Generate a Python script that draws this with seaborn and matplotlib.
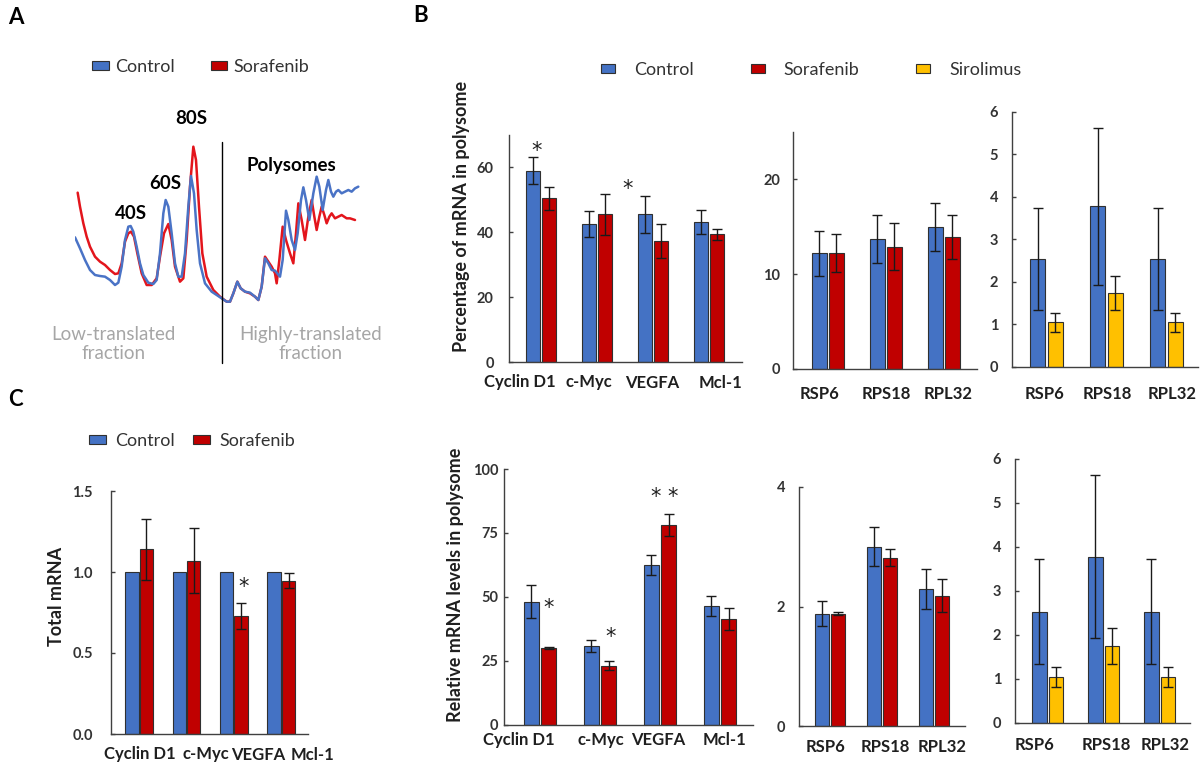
import numpy as np
import pandas as pd
import matplotlib
matplotlib.use("Agg")
import matplotlib.pyplot as plt
import seaborn as sns
from matplotlib.patches import Patch
from matplotlib.transforms import ScaledTranslation
from matplotlib.ticker import FormatStrFormatter

# ---------------- data ----------------
# Panel A: polysome profiles (gradient position, absorbance; arbitrary units)
pos_control = [225, 240, 255, 270, 285, 300, 315, 330, 345, 355,
               365, 375, 385, 392, 400, 410, 420, 430, 445, 460,
               470, 480, 490, 497, 505, 515, 525, 535, 545, 555,
               565, 573, 582, 590, 600, 615, 635, 650, 665, 680,
               690, 700, 712, 722, 735, 750, 765, 775, 785, 795,
               805, 815, 825, 840, 848, 858, 865, 875, 885, 893,
               903, 910, 918, 928, 940, 950, 958, 968, 978, 985,
               993, 1000, 1008, 1015, 1025, 1035, 1045, 1055, 1065, 1075]
abs_control = [288, 255, 220, 190, 175, 172, 170, 160, 145, 152,
               200, 280, 320, 322, 305, 260, 210, 175, 152, 148,
               160, 240, 360, 400, 380, 300, 210, 170, 170, 240,
               380, 472, 420, 310, 210, 150, 125, 115, 105, 95,
               95, 120, 155, 135, 125, 122, 110, 100, 140, 225,
               210, 190, 188, 170, 220, 368, 340, 280, 250, 300,
               400, 438, 400, 340, 420, 470, 440, 370, 430, 460,
               425, 410, 425, 430, 420, 425, 430, 425, 435, 440]
pos_sorafenib = [233, 240, 250, 260, 270, 285, 300, 315, 330, 345,
                 355, 365, 375, 385, 393, 402, 412, 425, 440, 455,
                 470, 480, 492, 505, 515, 525, 540, 550, 560, 570,
                 580, 588, 597, 607, 620, 640, 660, 680, 690, 700,
                 712, 722, 735, 750, 765, 775, 785, 795, 805, 815,
                 825, 830, 838, 848, 858, 870, 880, 888, 895, 905,
                 915, 925, 935, 943, 950, 958, 965, 973, 980, 988,
                 995, 1005, 1015, 1025, 1040, 1050, 1065]
abs_sorafenib = [422, 380, 330, 290, 260, 230, 215, 205, 190, 178,
                 180, 210, 275, 300, 305, 290, 240, 180, 145, 145,
                 165, 230, 300, 328, 280, 200, 155, 165, 280, 440,
                 560, 520, 380, 240, 170, 130, 110, 95, 95, 120,
                 155, 135, 125, 120, 110, 100, 140, 230, 215, 200,
                 180, 150, 220, 320, 280, 240, 210, 300, 390, 340,
                 280, 350, 400, 350, 310, 350, 380, 355, 330, 350,
                 360, 345, 350, 355, 345, 345, 340]
divider_pos = 667

genes = ["Cyclin D1", "c-Myc", "VEGFA", "Mcl-1"]
ribo_genes = ["RSP6", "RPS18", "RPL32"]

# Panel B top: percentage of mRNA in polysome
pct_control = [59.0, 42.5, 45.5, 43.2]
pct_control_err = [4.2, 4.1, 5.7, 3.8]
pct_sorafenib = [50.5, 45.5, 37.3, 39.4]
pct_sorafenib_err = [3.6, 6.2, 5.2, 1.7]
ribo_pct_control = [12.2, 13.7, 15.0]
ribo_pct_control_err = [2.4, 2.5, 2.5]
ribo_pct_sorafenib = [12.2, 12.9, 13.9]
ribo_pct_sorafenib_err = [2.0, 2.5, 2.3]
ribo_siro_control = [2.53, 3.78, 2.53]
ribo_siro_control_err = [1.2, 1.85, 1.2]
ribo_siro_sirolimus = [1.05, 1.75, 1.05]
ribo_siro_sirolimus_err = [0.23, 0.40, 0.23]

# Panel B bottom: relative mRNA levels in polysome
rel_control = [48.2, 30.9, 62.5, 46.6]
rel_control_err = [6.5, 2.3, 3.9, 3.9]
rel_sorafenib = [30.0, 23.2, 78.1, 41.4]
rel_sorafenib_err = [0.4, 1.9, 4.3, 4.4]
rel_ribo_control = [1.88, 3.00, 2.29]
rel_ribo_control_err = [0.21, 0.33, 0.33]
rel_ribo_sorafenib = [1.88, 2.82, 2.18]
rel_ribo_sorafenib_err = [0.03, 0.14, 0.28]

# Panel C: total mRNA
total_control = [1.0, 1.0, 1.0, 1.0]
total_sorafenib = [1.14, 1.07, 0.73, 0.946]
total_sorafenib_err = [0.19, 0.20, 0.08, 0.045]

# ---------------- style ----------------
sns.set_theme(style="white")
plt.rcParams['font.family'] = ['Lato', 'DejaVu Sans']

BLUE = "#4472C4"
RED = "#C00000"
YELLOW = "#FFC000"
LINE_BLUE = "#4A73C6"
LINE_RED = "#E3151C"
TXT = "#1f1f1f"

W, H = 1201, 762
fig = plt.figure(figsize=(W / 100, H / 100), dpi=100)


def rect(l, t, r, b):
    return [l / W, 1 - b / H, (r - l) / W, (b - t) / H]


def fx(px):
    return px / W


def fy(py):
    return 1 - py / H


def bar_panel(box, cats, series, names, colors, ylim, yticks, xlim, width, gap,
              ypad, xpad, label_dx, fmt="%d"):
    ax = fig.add_axes(rect(*box))
    frames = [pd.DataFrame({"gene": cats, "group": n, "value": v})
              for n, (v, e) in zip(names, series)]
    df = pd.concat(frames, ignore_index=True)
    sns.barplot(data=df, x="gene", y="value", hue="group", order=cats,
                hue_order=names, palette=colors, saturation=1, width=width,
                gap=gap, errorbar=None, edgecolor="#303030", linewidth=0.8,
                legend=False, ax=ax)
    for cont, (v, e) in zip(ax.containers, series):
        if e is None:
            continue
        xs = [p.get_x() + p.get_width() / 2 for p in cont.patches]
        ax.errorbar(xs, v, yerr=e, fmt="none", ecolor="#1a1a1a",
                    elinewidth=1.0, capsize=3.5, capthick=1.0, zorder=3)
    ax.set_xlim(*xlim)
    ax.set_ylim(*ylim)
    ax.set_yticks(yticks)
    ax.yaxis.set_major_formatter(FormatStrFormatter(fmt))
    ax.set_xlabel("")
    ax.set_ylabel("")
    sns.despine(ax=ax)
    for s in ("left", "bottom"):
        ax.spines[s].set_color("#404040")
        ax.spines[s].set_linewidth(1.0)
    ax.tick_params(axis="x", length=0, pad=xpad, labelsize=12, labelcolor=TXT)
    ax.tick_params(axis="y", direction="in", length=3, width=1, color="#404040",
                   pad=ypad, labelsize=10.5, labelcolor="#333333", left=True)
    for lbl in ax.get_yticklabels():
        lbl.set_fontweight("bold")
    for lbl, dx in zip(ax.get_xticklabels(), label_dx):
        lbl.set_fontweight("bold")
        lbl.set_transform(lbl.get_transform() +
                          ScaledTranslation(dx / 100, 0, fig.dpi_scale_trans))
    return ax


# ---------------- Panel A ----------------
axA = fig.add_axes(rect(75, 140, 360, 310))
sns.lineplot(x=pos_sorafenib, y=abs_sorafenib, color=LINE_RED, lw=1.8,
             sort=False, estimator=None, ax=axA)
sns.lineplot(x=pos_control, y=abs_control, color=LINE_BLUE, lw=1.8,
             sort=False, estimator=None, ax=axA)
axA.set_xlim(225, 1080)
axA.set_ylim(70, 580)
axA.axis("off")
axA.plot([divider_pos, divider_pos], [574, -89], color="black", lw=1.0,
         clip_on=False)
for x, y, s in [(393, 360, "40S"), (495, 450, "60S"), (575, 643, "80S"),
                (875, 505, "Polysomes")]:
    axA.text(x, y, s, ha="center", va="center", fontsize=13.5,
             fontweight="bold", color="black", clip_on=False)
axA.text(340, -32, "Low-translated\nfraction", ha="center", va="center",
         fontsize=13.5, color="#A6A6A6", linespacing=1.15, clip_on=False)
axA.text(933, -32, "Highly-translated\nfraction", ha="center", va="center",
         fontsize=13.5, color="#A6A6A6", linespacing=1.15, clip_on=False)

# ---------------- Panel B ----------------
axB1 = bar_panel((509, 135, 742, 362), genes,
                 [(pct_control, pct_control_err), (pct_sorafenib, pct_sorafenib_err)],
                 ["Control", "Sorafenib"], [BLUE, RED], (0, 70), [0, 20, 40, 60],
                 (-0.57, 3.59), 0.57, 0.1, 11, 9, [-21, -8, -1, 12])
axB1.set_ylabel("Percentage of mRNA in polysome", fontsize=13,
                fontweight="bold", color=TXT)
axB1.yaxis.set_label_coords(fx(462), fy(216), transform=fig.transFigure)
axB1.yaxis.label.set_va("center")

axB2 = bar_panel((793, 132, 977, 369), ribo_genes,
                 [(ribo_pct_control, ribo_pct_control_err),
                  (ribo_pct_sorafenib, ribo_pct_sorafenib_err)],
                 ["Control", "Sorafenib"], [BLUE, RED], (0, 25), [0, 10, 20],
                 (-0.6, 2.57), 0.586, 0.12, 9, 12, [-8, 0, 4])

axB3 = bar_panel((1012, 112, 1198, 367), ribo_genes,
                 [(ribo_siro_control, ribo_siro_control_err),
                  (ribo_siro_sirolimus, ribo_siro_sirolimus_err)],
                 ["Control", "Sirolimus"], [BLUE, YELLOW], (0, 6),
                 [0, 1, 2, 3, 4, 5, 6], (-0.575, 2.525), 0.58, 0.14, 10, 14,
                 [-2, 1, 6])

axB4 = bar_panel((504, 469, 753, 725), genes,
                 [(rel_control, rel_control_err), (rel_sorafenib, rel_sorafenib_err)],
                 ["Control", "Sorafenib"], [BLUE, RED], (0, 100), [0, 25, 50, 75, 100],
                 (-0.6, 3.55), 0.583, 0.12, 4, 5, [-21, 1, -2, 4])
axB4.set_ylabel("Relative mRNA levels in polysome", fontsize=13,
                fontweight="bold", color=TXT)
axB4.yaxis.set_label_coords(fx(455), fy(585), transform=fig.transFigure)
axB4.yaxis.label.set_va("center")

axB5 = bar_panel((799, 487, 965, 726), ribo_genes,
                 [(rel_ribo_control, rel_ribo_control_err),
                  (rel_ribo_sorafenib, rel_ribo_sorafenib_err)],
                 ["Control", "Sorafenib"], [BLUE, RED], (0, 4), [0, 2, 4],
                 (-0.6, 2.6), 0.62, 0.1, 10, 9, [-5, 3.5, 8])

axB6 = bar_panel((1015, 459, 1190, 723), ribo_genes,
                 [(ribo_siro_control, ribo_siro_control_err),
                  (ribo_siro_sirolimus, ribo_siro_sirolimus_err)],
                 ["Control", "Sirolimus"], [BLUE, YELLOW], (0, 6),
                 [0, 1, 2, 3, 4, 5, 6], (-0.58, 2.54), 0.59, 0.12, 10, 10,
                 [-13, 2.5, 5.5])

# ---------------- Panel C ----------------
axC = bar_panel((111, 491, 308, 734), genes,
                [(total_control, None), (total_sorafenib, total_sorafenib_err)],
                ["Control", "Sorafenib"], [BLUE, RED], (0, 1.5), [0, 0.5, 1.0, 1.5],
                (-0.59, 3.56), 0.61, 0.07, 13, 9, [1, 19, 24, 31], fmt="%.1f")
axC.set_ylabel("Total mRNA", fontsize=13, fontweight="bold", color=TXT)
axC.yaxis.set_label_coords(fx(56), fy(596), transform=fig.transFigure)
axC.yaxis.label.set_va("center")

# significance marks
for ax, x, y, s in [(axB1, -0.07, 65.2, "*"), (axB1, 1.55, 53.5, "*"),
                    (axB4, 0.15, 45.7, "*"), (axB4, 1.17, 34.4, "*"),
                    (axB4, 2.08, 89.0, "* *"), (axC, 2.21, 0.91, "*")]:
    ax.text(x, y, s, ha="center", va="center", fontsize=15, color=TXT,
            fontfamily="DejaVu Sans")

# ---------------- legends ----------------
def legend(names, colors, x, y, **kw):
    handles = [Patch(facecolor=c, edgecolor="#303030", linewidth=0.8) for c in colors]
    fig.legend(handles, names, loc="center left", bbox_to_anchor=(fx(x), fy(y)),
               ncol=len(names), frameon=False, borderpad=0, borderaxespad=0,
               fontsize=13, labelcolor="#333333", **kw)


legend(["Control", "Sorafenib"], [BLUE, RED], 92, 67,
       handlelength=0.92, handleheight=0.35, handletextpad=0.35, columnspacing=2.0)
legend(["Control", "Sorafenib", "Sirolimus"], [BLUE, RED, YELLOW], 601, 70,
       handlelength=0.78, handleheight=0.32, handletextpad=1.05, columnspacing=3.15)
legend(["Control", "Sorafenib"], [BLUE, RED], 89, 441,
       handlelength=0.92, handleheight=0.35, handletextpad=0.5, columnspacing=1.05)

# panel letters
for x, y, s in [(16, 17, "A"), (421, 16, "B"), (15, 400, "C")]:
    fig.text(fx(x), fy(y), s, ha="center", va="center", fontsize=16,
             fontweight="bold", color="black")

fig.savefig("out.png", dpi=100)
